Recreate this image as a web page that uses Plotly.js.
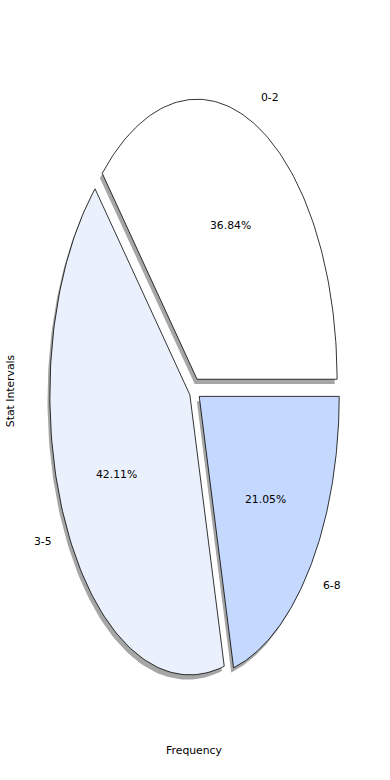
<!DOCTYPE html>
<html><head><meta charset="utf-8">
<script src="https://cdn.plot.ly/plotly-3.0.1.min.js"></script>
<style>html,body{margin:0;padding:0;background:#fff}</style>
</head><body><div id="chart" style="width:390px;height:780px"></div>
<script>
// Data
const categories = ['0-2', '3-5', '6-8'];
const frequencies = [7, 8, 4];
const xTitle = 'Frequency';
const yTitle = 'Stat Intervals';

// Styles
const sliceColors = ['#ffffff', '#eaf1fd', '#c5d9fe'];
const explode = 0.04;
const shadowOffset = [-0.017, -0.017];
const shadowColor = '#a6a6a6';
const FONT = 'DejaVu Sans, sans-serif';
const FS = 10.8;

const total = frequencies.reduce((a, b) => a + b, 0);
const shadows = [], wedges = [], annotations = [];
let start = 0;
frequencies.forEach((v, i) => {
  const frac = v / total;
  const t1 = start * 2 * Math.PI, t2 = (start + frac) * 2 * Math.PI;
  const mid = (t1 + t2) / 2;
  const ox = explode * Math.cos(mid), oy = explode * Math.sin(mid);
  const xs = [ox], ys = [oy];
  const n = 120;
  for (let k = 0; k <= n; k++) {
    const t = t1 + (t2 - t1) * k / n;
    xs.push(ox + Math.cos(t)); ys.push(oy + Math.sin(t));
  }
  xs.push(ox); ys.push(oy);
  shadows.push({type: 'scatter', mode: 'lines', x: xs.map(x => x + shadowOffset[0]), y: ys.map(y => y + shadowOffset[1]),
    fill: 'toself', fillcolor: shadowColor, line: {width: 0, color: shadowColor}, hoverinfo: 'skip', showlegend: false});
  wedges.push({type: 'scatter', mode: 'lines', x: xs, y: ys, name: categories[i],
    fill: 'toself', fillcolor: sliceColors[i], line: {width: 0.8, color: '#000'}, hoverinfo: 'name', showlegend: false});
  const lx = ox + 1.1 * Math.cos(mid), ly = oy + 1.1 * Math.sin(mid);
  annotations.push({x: lx, y: ly, xref: 'x', yref: 'y', text: categories[i], showarrow: false,
    xanchor: lx > 0 ? 'left' : 'right', yanchor: 'middle', font: {family: FONT, size: FS, color: '#000'}});
  const px = ox + 0.6 * Math.cos(mid), py = oy + 0.6 * Math.sin(mid);
  annotations.push({x: px, y: py, xref: 'x', yref: 'y', text: (frac * 100).toFixed(2) + '%', showarrow: false,
    xanchor: 'center', yanchor: 'middle', font: {family: FONT, size: FS, color: '#000'}});
  start += frac;
});

const W = 390, H = 780;
const cx = 194.8, cy = 389.5, sx = 140, sy = 280;
const m = {l: 40, r: 42, t: 60, b: 58};
const layout = {
  width: W, height: H, margin: m,
  paper_bgcolor: '#fff', plot_bgcolor: '#fff',
  font: {family: FONT, size: FS, color: '#000'},
  xaxis: {range: [(m.l - cx) / sx, (W - m.r - cx) / sx], showgrid: false, zeroline: false, showticklabels: false,
    ticks: '', showline: false, fixedrange: true, title: {text: xTitle, font: {family: FONT, size: FS, color: '#000'}}},
  yaxis: {range: [(cy - (H - m.b)) / sy, (cy - m.t) / sy], showgrid: false, zeroline: false, showticklabels: false,
    ticks: '', showline: false, fixedrange: true, title: {text: yTitle, font: {family: FONT, size: FS, color: '#000'}}},
  annotations: annotations,
  showlegend: false
};
Plotly.newPlot('chart', shadows.concat(wedges), layout, {displayModeBar: false, staticPlot: true});
</script></body></html>
